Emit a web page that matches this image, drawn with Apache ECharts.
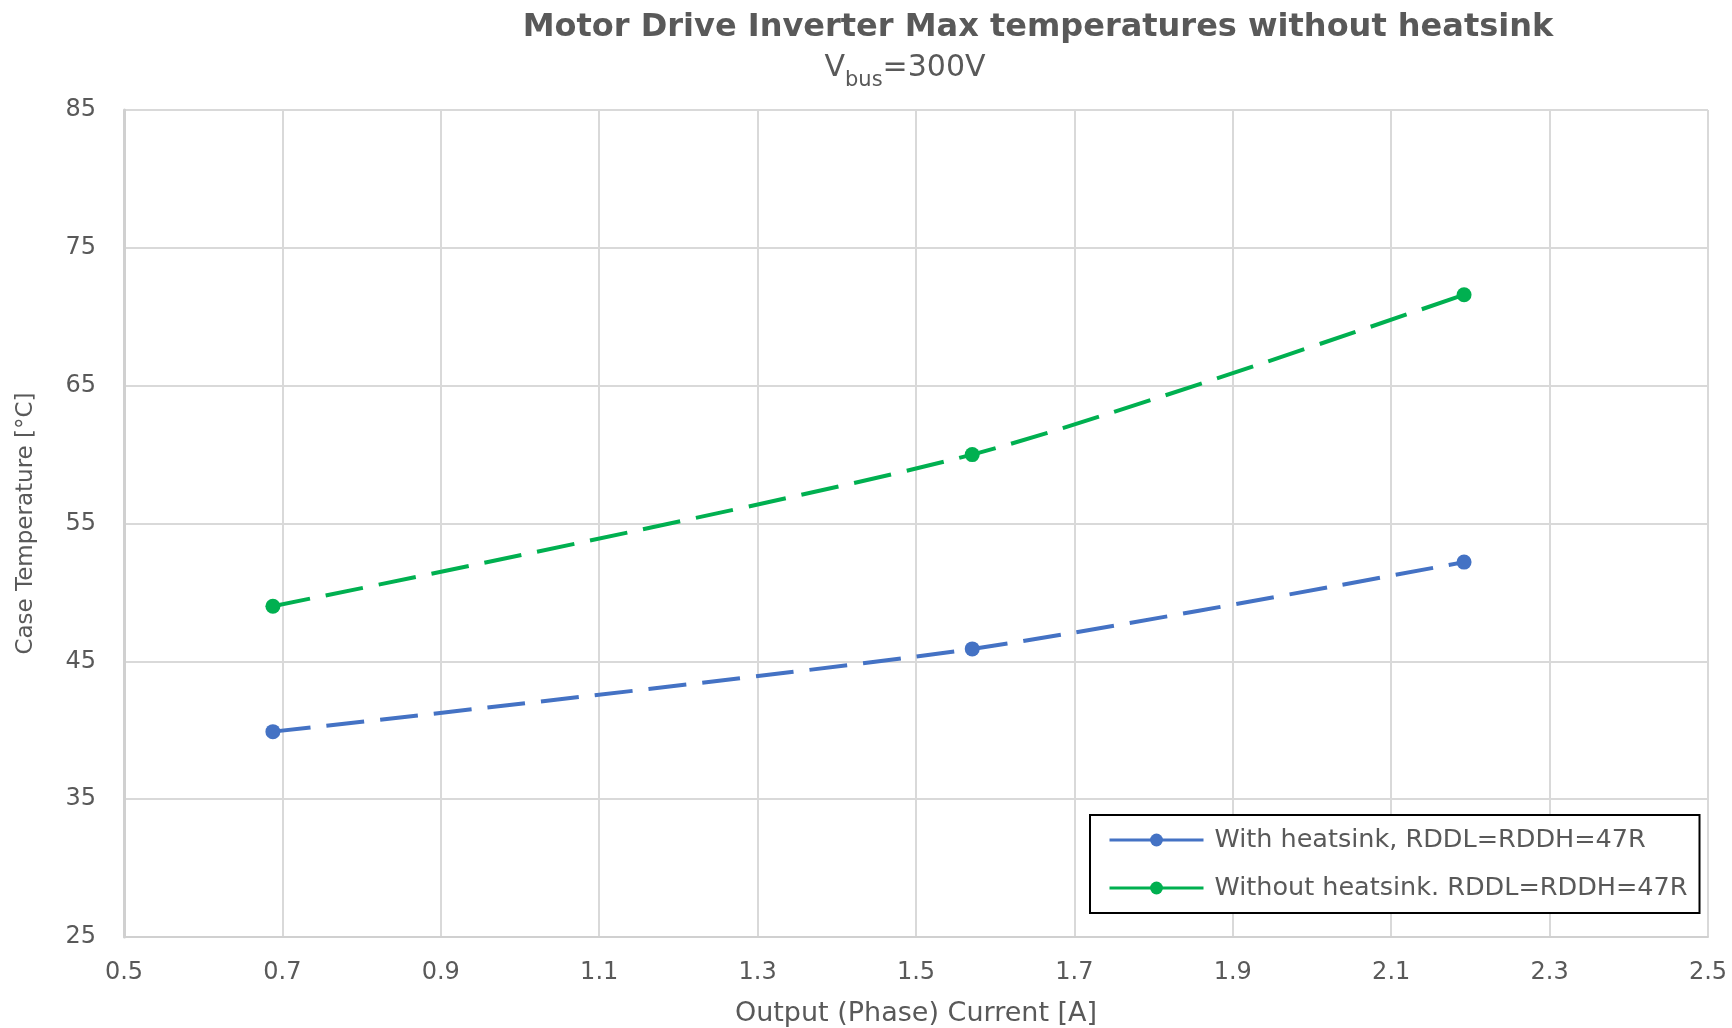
<!DOCTYPE html>
<html>
<head>
<meta charset="utf-8">
<script src="https://cdn.jsdelivr.net/npm/echarts@6/dist/echarts.min.js"></script>
<style>html,body{margin:0;padding:0;background:#fff}#c{width:1732px;height:1028px}</style>
</head>
<body>
<div id="c"></div>
<script>
const titleText = 'Motor Drive Inverter Max temperatures without heatsink';
const seriesNames = ['With heatsink, RDDL=RDDH=47R', 'Without heatsink. RDDL=RDDH=47R'];
const currentA = [0.688, 1.571, 2.192];
const withHeatsink = [39.9, 45.9, 52.2];
const withoutHeatsink = [49.0, 60.0, 71.6];
const xTicks = [0.5, 0.7, 0.9, 1.1, 1.3, 1.5, 1.7, 1.9, 2.1, 2.3, 2.5];
const yTicks = [25, 35, 45, 55, 65, 75, 85];

const FONT = 'DejaVu Sans';
const grey = '#595959';
const chart = echarts.init(document.getElementById('c'));
chart.setOption({
  animation: false,
  backgroundColor: '#fff',
  textStyle: { fontFamily: FONT },
  title: [
    { text: titleText, left: 1033, top: 7, textAlign: 'center',
      textStyle: { fontFamily: FONT, fontWeight: 'bold', fontSize: 32, color: grey } },
    { text: '{v|V}{s|bus}{v|=300V}', left: 900, top: 48, textAlign: 'center',
      textStyle: { fontWeight: 'normal', rich: {
        v: { fontFamily: FONT, fontSize: 30, fontWeight: 'normal', color: grey, verticalAlign: 'bottom' },
        s: { fontFamily: FONT, fontSize: 21, fontWeight: 'normal', color: grey, verticalAlign: 'bottom', padding: [0,0,-8,0] }
      } } }
  ],
  grid: { left: 124, right: 24, top: 110, bottom: 91, containLabel: false, outerBoundsMode: 'none' },
  legend: {
    orient: 'vertical', left: 1090, top: 815,
    backgroundColor: '#fff', borderColor: '#000', borderWidth: 2,
    padding: [12, 12, 12, 18], itemGap: 22, itemWidth: 94, itemHeight: 16,
    lineStyle: { type: 'solid', width: 3 },
    textStyle: { fontFamily: FONT, fontSize: 25.5, color: grey, padding: [0,0,0,6] },
    data: seriesNames
  },
  xAxis: {
    type: 'value', min: 0.5, max: 2.5, interval: 0.2,
    name: 'Output (Phase) Current [A]', nameLocation: 'middle', nameGap: 63,
    nameTextStyle: { fontFamily: FONT, fontSize: 27, color: grey },
    axisLine: { lineStyle: { color: '#d0d0d0', width: 2 } },
    axisTick: { show: false },
    axisLabel: { fontFamily: FONT, fontSize: 24, color: grey, margin: 24,
      formatter: v => { const t = xTicks.find(x => Math.abs(x - v) < 1e-6); return t === undefined ? '' : t.toFixed(1); } },
    splitLine: { show: true, lineStyle: { color: '#d9d9d9', width: 2 } }
  },
  yAxis: {
    type: 'value', min: 25, max: 85, interval: 10,
    name: 'Case Temperature [°C]', nameLocation: 'middle', nameGap: 86,
    nameTextStyle: { fontFamily: FONT, fontSize: 23, color: grey },
    axisLine: { show: true, lineStyle: { color: '#d0d0d0', width: 3 } },
    axisTick: { show: false },
    axisLabel: { fontFamily: FONT, fontSize: 24, color: grey, margin: 28,
      formatter: v => yTicks.includes(v) ? String(v) : '' },
    splitLine: { show: true, lineStyle: { color: '#d9d9d9', width: 2 } }
  },
  series: [
    { name: seriesNames[0], type: 'line', smooth: 0.25,
      data: currentA.map((x, i) => [x, withHeatsink[i]]),
      symbol: 'circle', symbolSize: 15,
      itemStyle: { color: '#4472C4' },
      lineStyle: { color: '#4472C4', width: 4, type: [38, 16] } },
    { name: seriesNames[1], type: 'line', smooth: 0.25,
      data: currentA.map((x, i) => [x, withoutHeatsink[i]]),
      symbol: 'circle', symbolSize: 15,
      itemStyle: { color: '#00B050' },
      lineStyle: { color: '#00B050', width: 4, type: [38, 16] } }
  ]
});
</script>
</body>
</html>
